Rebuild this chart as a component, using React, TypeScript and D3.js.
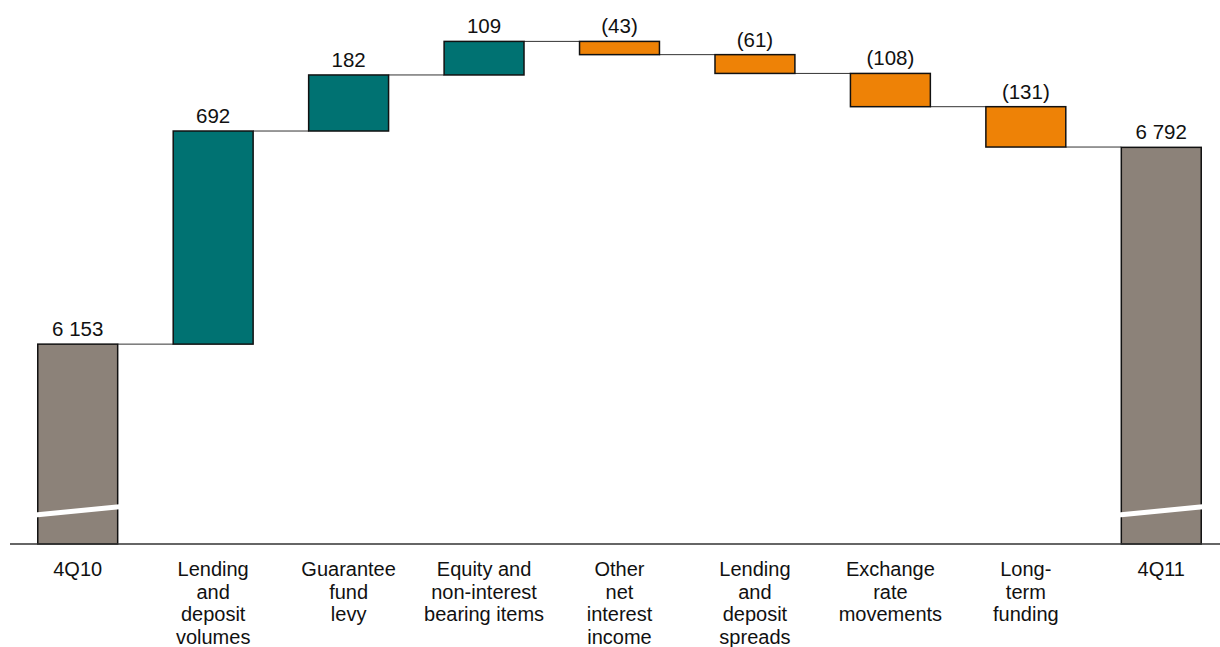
import * as d3 from "d3";

const categories = [
  ["4Q10"],
  ["Lending", "and", "deposit", "volumes"],
  ["Guarantee", "fund", "levy"],
  ["Equity and", "non-interest", "bearing items"],
  ["Other", "net", "interest", "income"],
  ["Lending", "and", "deposit", "spreads"],
  ["Exchange", "rate", "movements"],
  ["Long-", "term", "funding"],
  ["4Q11"],
];
const kinds = ["total", "step", "step", "step", "step", "step", "step", "step", "total"];
const values = [6153, 692, 182, 109, -43, -61, -108, -131, 6792];
const valueLabels = ["6 153", "692", "182", "109", "(43)", "(61)", "(108)", "(131)", "6 792"];

const W = 1220;
const H = 647;
const baseY = 544;

export default function App() {
  const ids = categories.map((_, i) => String(i));
  const x = d3.scaleBand().domain(ids).range([10, 1229]).paddingInner(0.41).paddingOuter(0.205);
  const y = d3.scaleLinear().domain([5504, 7136]).range([baseY, 41.4]);

  let run = 0;
  const bars = values.map((v, i) => {
    if (kinds[i] === "total") {
      run = v;
      return { i, lo: y.domain()[0], hi: v, end: v, top: v };
    }
    const start = run;
    run = start + v;
    return { i, lo: Math.min(start, run), hi: Math.max(start, run), end: run, top: Math.max(start, run) };
  });

  const colorOf = (i: number) =>
    kinds[i] === "total" ? "#8c8279" : values[i] >= 0 ? "#007272" : "#ee8206";

  const bw = x.bandwidth();

  return (
    <div style={{ position: "fixed", left: 0, top: 0 }}>
      <svg width={W} height={H} style={{ display: "block", fontFamily: "'Liberation Sans', Arial, sans-serif" }}>
        <rect width={W} height={H} fill="#fff" />
        {/* connectors */}
        {bars.slice(0, -1).map((b, k) => {
          const x1 = x(String(b.i))! + bw;
          const x2 = x(String(b.i + 1))!;
          const yy = y(b.end);
          return <line key={"c" + k} x1={x1} x2={x2} y1={yy} y2={yy} stroke="#333" strokeWidth={1} />;
        })}
        {bars.map((b) => {
          const x0 = x(String(b.i))!;
          return (
            <g key={b.i}>
              <rect
                x={x0}
                y={y(b.hi)}
                width={bw}
                height={y(b.lo) - y(b.hi)}
                fill={colorOf(b.i)}
                stroke="#111"
                strokeWidth={1.5}
              />
              <text x={x0 + bw / 2} y={y(b.top) - 8} textAnchor="middle" fontSize={20.5} fill="#111">
                {valueLabels[b.i]}
              </text>
            </g>
          );
        })}
        {/* axis break marks */}
        {bars.filter((b) => kinds[b.i] === "total").map((b) => {
          const x0 = x(String(b.i))!;
          return (
            <line
              key={"br" + b.i}
              x1={x0 - 13}
              y1={516}
              x2={x0 + bw + 40}
              y2={503}
              stroke="#fff"
              strokeWidth={5}
            />
          );
        })}
        <line x1={10} x2={W} y1={baseY} y2={baseY} stroke="#333" strokeWidth={1.5} />
        {categories.map((lines, i) => (
          <text key={"l" + i} x={x(String(i))! + bw / 2} y={576} textAnchor="middle" fontSize={20} fill="#111">
            {lines.map((t, j) => (
              <tspan key={j} x={x(String(i))! + bw / 2} dy={j === 0 ? 0 : 22.6}>
                {t}
              </tspan>
            ))}
          </text>
        ))}
      </svg>
    </div>
  );
}
